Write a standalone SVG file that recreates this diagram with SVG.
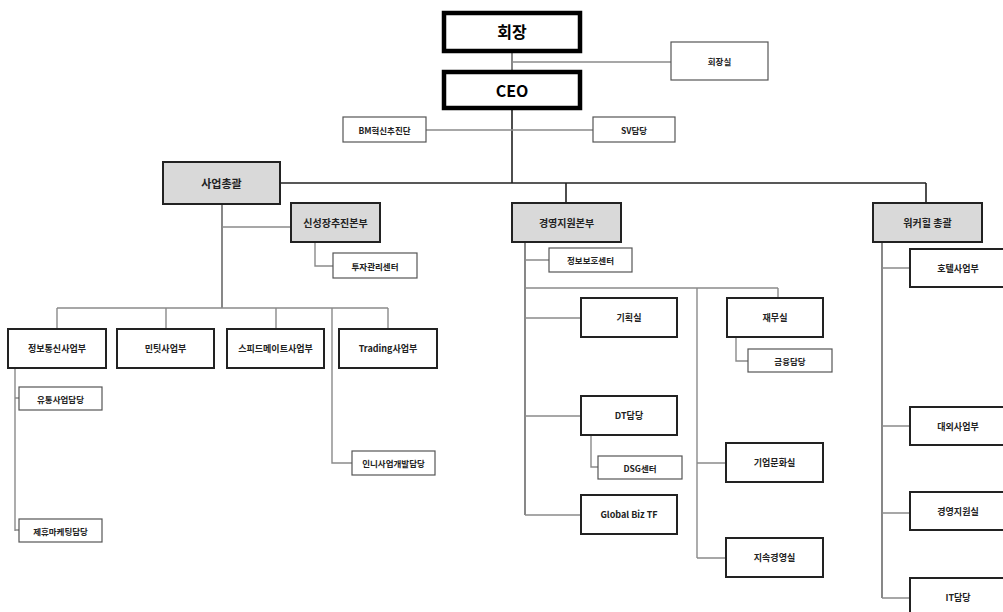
<svg xmlns="http://www.w3.org/2000/svg" width="1003" height="612" viewBox="0 0 1003 612">
<style>
text{font-family:"Noto Sans CJK KR","Malgun Gothic","Liberation Sans",sans-serif;font-weight:bold;fill:#222;text-anchor:middle;dominant-baseline:central}
.top rect{fill:#fff;stroke:#000;stroke-width:4.5}
.top text{font-size:16px;fill:#000}
.hq rect{fill:#d9d9d9;stroke:#222;stroke-width:2}
.hq text{font-size:10px}
.dept rect{fill:#fff;stroke:#222;stroke-width:2}
.dept text{font-size:9px}
.sm rect{fill:#fff;stroke:#555;stroke-width:1.2}
.sm text{font-size:8.5px}
.lk{fill:none;stroke:#222;stroke-width:1.6}
.lm{fill:none;stroke:#555;stroke-width:1.4}
.lg{fill:none;stroke:#8a8a8a;stroke-width:1.4}
</style>
<rect width="1003" height="612" fill="#fff"/>
<g id="connectors">
<path class="lm" d="M512 51V71"/>
<path class="lk" d="M512 108V183M280 183H926M566 183V203M926 183V203"/>
<path class="lg" d="M512 62H671M426 130H593"/>
<path class="lm" d="M222 204V308"/>
<path class="lg" d="M222 227H291M315 242V266H333"/>
<path class="lg" d="M57 308H388M57 308V329M166 308V329M276 308V329M388 308V329M332 308V463H352"/>
<path class="lg" d="M15 368V531M15 398H19M15 530H19"/>
<path class="lm" d="M525 242V515"/>
<path class="lg" d="M525 260H549M525 288H778M778 288V298M525 318H581M525 416H581M525 515H581"/>
<path class="lg" d="M697 288V558M697 463H726M697 558H726M736 337V361H748M591 435V467H598"/>
<path class="lm" d="M882 242V598"/>
<path class="lg" d="M882 268H910M882 426H910M882 513H910M882 598H910"/>
</g>
<g id="n-chair" class="top"><rect x="444" y="13" width="136" height="38"/><text x="512" y="31">회장</text></g>
<g id="n-ceo" class="top"><rect x="444" y="72" width="136" height="36"/><text x="512" y="90">CEO</text></g>
<g id="n-chairoffice" class="sm"><rect x="671" y="42" width="97" height="38"/><text x="719.5" y="61">회장실</text></g>
<g id="n-bm" class="sm"><rect x="343" y="117" width="83" height="25"/><text x="384.5" y="129.5">BM혁신추진단</text></g>
<g id="n-sv" class="sm"><rect x="593" y="117" width="82" height="25"/><text x="634" y="129.5">SV담당</text></g>
<g id="n-biz" class="hq"><rect x="163" y="162" width="117" height="42"/><text x="221.5" y="183" style="font-size:11px">사업총괄</text></g>
<g id="n-newgrowth" class="hq"><rect x="291" y="203" width="89" height="39"/><text x="335.5" y="222.5">신성장추진본부</text></g>
<g id="n-invest" class="sm"><rect x="333" y="253" width="84" height="25"/><text x="375" y="265.5">투자관리센터</text></g>
<g id="n-ict" class="dept"><rect x="8" y="329" width="98" height="39"/><text x="57" y="348.5">정보통신사업부</text></g>
<g id="n-mintit" class="dept"><rect x="117" y="329" width="97" height="39"/><text x="165.5" y="348.5">민팃사업부</text></g>
<g id="n-speedmate" class="dept"><rect x="227" y="329" width="97" height="39"/><text x="275.5" y="348.5">스피드메이트사업부</text></g>
<g id="n-trading" class="dept"><rect x="339" y="329" width="98" height="39"/><text x="388" y="348.5">Trading사업부</text></g>
<g id="n-dist" class="sm"><rect x="19" y="387" width="83" height="23"/><text x="60.5" y="398.5">유통사업담당</text></g>
<g id="n-partner" class="sm"><rect x="19" y="519" width="83" height="23"/><text x="60.5" y="530.5">제휴마케팅담당</text></g>
<g id="n-indo" class="sm"><rect x="352" y="451" width="83" height="24"/><text x="393.5" y="463">인니사업개발담당</text></g>
<g id="n-mgmt" class="hq"><rect x="512" y="203" width="109" height="39"/><text x="566.5" y="222.5">경영지원본부</text></g>
<g id="n-infosec" class="sm"><rect x="549" y="248" width="83" height="24"/><text x="590.5" y="260">정보보호센터</text></g>
<g id="n-plan" class="dept"><rect x="581" y="298" width="96" height="39"/><text x="629" y="317.5">기획실</text></g>
<g id="n-finance" class="dept"><rect x="727" y="298" width="96" height="39"/><text x="775" y="317.5">재무실</text></g>
<g id="n-fin2" class="sm"><rect x="748" y="349" width="84" height="23"/><text x="790" y="360.5">금융담당</text></g>
<g id="n-dt" class="dept"><rect x="581" y="396" width="96" height="39"/><text x="629" y="415.5">DT담당</text></g>
<g id="n-dsg" class="sm"><rect x="598" y="456" width="84" height="23"/><text x="640" y="467.5">DSG센터</text></g>
<g id="n-global" class="dept"><rect x="581" y="495" width="96" height="39"/><text x="629" y="514.5">Global Biz TF</text></g>
<g id="n-culture" class="dept"><rect x="726" y="443" width="97" height="39"/><text x="774.5" y="462.5">기업문화실</text></g>
<g id="n-sustain" class="dept"><rect x="726" y="538" width="97" height="39"/><text x="774.5" y="557.5">지속경영실</text></g>
<g id="n-walkerhill" class="hq"><rect x="873" y="203" width="109" height="39"/><text x="927.5" y="222.5">워커힐 총괄</text></g>
<g id="n-hotel" class="dept"><rect x="910" y="249" width="97" height="38"/><text x="958" y="268">호텔사업부</text></g>
<g id="n-external" class="dept"><rect x="910" y="407" width="97" height="38"/><text x="958" y="426">대외사업부</text></g>
<g id="n-mgmtsupport" class="dept"><rect x="910" y="492" width="97" height="38"/><text x="958" y="511">경영지원실</text></g>
<g id="n-it" class="dept"><rect x="910" y="578" width="97" height="40"/><text x="958" y="597">IT담당</text></g>
</svg>
